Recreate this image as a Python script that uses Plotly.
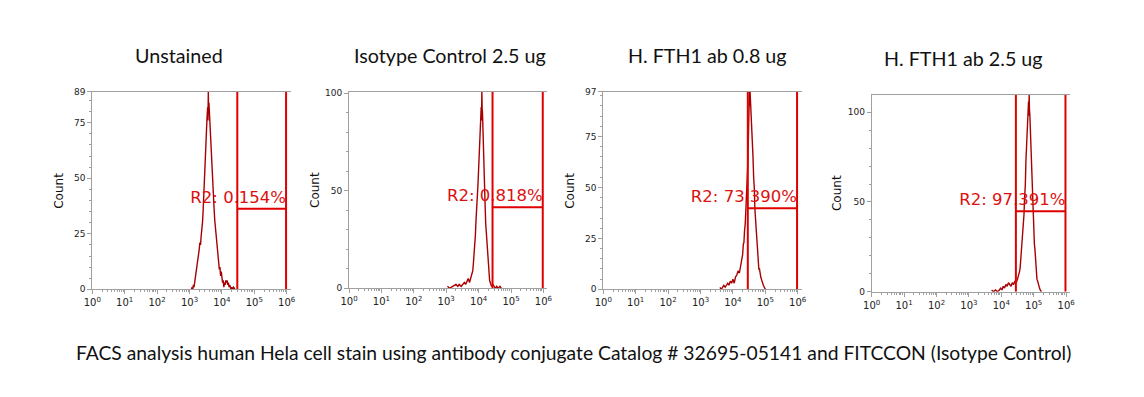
import plotly.graph_objects as go

# ---------------- data ----------------
titles = ["Unstained", "Isotype Control 2.5 ug", "H. FTH1 ab 0.8 ug", "H. FTH1 ab 2.5 ug"]
caption = "FACS analysis human Hela cell stain using antibody conjugate Catalog # 32695-05141 and FITCCON (Isotype Control)"
gate_labels = ["R2: 0.154%", "R2: 0.818%", "R2: 73.390%", "R2: 97.391%"]

# fluorescence (log10 of channel value) and event counts
p1_log = [3.06, 3.08, 3.10, 3.12, 3.14, 3.16, 3.18, 3.20, 3.22, 3.24, 3.26, 3.28, 3.30, 3.32, 3.34,
          3.36, 3.38, 3.40, 3.42, 3.44, 3.46, 3.48, 3.50, 3.52, 3.54, 3.56, 3.57, 3.58, 3.59, 3.60,
          3.62, 3.64, 3.66, 3.68, 3.70, 3.72, 3.74, 3.76, 3.78, 3.80, 3.82, 3.84, 3.86, 3.88, 3.90,
          3.92, 3.94, 3.96, 3.98, 4.00, 4.02, 4.04, 4.06, 4.08, 4.10, 4.12, 4.14, 4.16, 4.18, 4.20,
          4.22, 4.24, 4.26, 4.28, 4.30, 4.32, 4.36, 4.40]
p1_cnt = [0, 1, 0, 2, 1, 3, 4, 6, 9, 10, 13, 16, 18, 21, 20,
          24, 26, 30, 35, 41, 46, 52, 60, 70, 77, 82, 76, 89, 80, 84,
          77, 74, 66, 58, 51, 46, 40, 36, 31, 28, 25, 20, 18, 13, 12,
          9, 10, 6, 8, 5, 3, 4, 1, 3, 2, 4, 3, 4, 2, 3,
          1, 2, 1, 0, 1, 0, 1, 0]

p2_log = [3.04, 3.10, 3.20, 3.30, 3.36, 3.40, 3.46, 3.50, 3.56, 3.60, 3.64, 3.68, 3.72, 3.76, 3.80,
          3.82, 3.84, 3.86, 3.88, 3.90, 3.92, 3.94, 3.96, 3.98, 4.00, 4.02, 4.04, 4.06, 4.08, 4.09,
          4.10, 4.11, 4.12, 4.14, 4.16, 4.18, 4.20, 4.22, 4.24, 4.26, 4.28, 4.30, 4.32, 4.34, 4.36,
          4.38, 4.40, 4.44, 4.48, 4.52, 4.56, 4.60, 4.66, 4.70]
p2_cnt = [1, 0, 1, 2, 1, 2, 1, 2, 3, 2, 4, 5, 3, 6, 8,
          9, 13, 17, 23, 27, 35, 39, 47, 53, 61, 66, 78, 82, 93, 86,
          101, 92, 90, 74, 66, 51, 43, 33, 28, 20, 16, 10, 9, 4, 3,
          2, 1, 2, 1, 0, 1, 0, 1, 0]

p3_log = [3.60, 3.64, 3.68, 3.72, 3.76, 3.80, 3.84, 3.88, 3.92, 3.96, 4.00, 4.04, 4.08, 4.12, 4.16,
          4.20, 4.24, 4.26, 4.28, 4.30, 4.32, 4.34, 4.36, 4.38, 4.40, 4.42, 4.44, 4.46, 4.48, 4.50,
          4.51, 4.52, 4.53, 4.54, 4.56, 4.58, 4.60, 4.62, 4.64, 4.66, 4.68, 4.70, 4.72, 4.74, 4.76,
          4.78, 4.80, 4.82, 4.84, 4.86, 4.88, 4.90, 4.92, 4.94, 4.96, 4.98, 5.00]
p3_cnt = [1, 0, 1, 2, 1, 2, 3, 2, 4, 3, 5, 3, 6, 7, 9,
          8, 12, 13, 16, 17, 22, 23, 29, 32, 39, 44, 54, 62, 77, 86,
          97, 90, 97, 94, 87, 81, 73, 65, 55, 50, 39, 34, 26, 23, 17,
          15, 10, 10, 7, 6, 5, 3, 3, 2, 1, 1, 0]

p4_log = [3.70, 3.76, 3.82, 3.88, 3.94, 3.98, 4.02, 4.06, 4.10, 4.14, 4.18, 4.22, 4.26, 4.30, 4.34,
          4.38, 4.42, 4.46, 4.50, 4.52, 4.54, 4.56, 4.58, 4.60, 4.62, 4.64, 4.66, 4.68, 4.70, 4.72,
          4.74, 4.76, 4.78, 4.80, 4.82, 4.84, 4.85, 4.86, 4.87, 4.88, 4.90, 4.92, 4.94, 4.96, 4.98,
          5.00, 5.02, 5.04, 5.06, 5.08, 5.10, 5.12, 5.14, 5.16, 5.18, 5.20, 5.24]
p4_cnt = [1, 0, 1, 0, 1, 2, 1, 3, 2, 4, 3, 5, 4, 3, 5,
          4, 6, 5, 7, 8, 9, 11, 13, 18, 20, 26, 29, 39, 43, 53,
          59, 73, 80, 93, 96, 106, 98, 110, 101, 99, 87, 77, 63, 56, 44,
          37, 27, 23, 15, 12, 7, 6, 4, 3, 2, 1, 0]

hist_log = [p1_log, p2_log, p3_log, p4_log]
hist_cnt = [p1_cnt, p2_cnt, p3_cnt, p4_cnt]

# gate R2: left edge, right edge (log10), marker height (count)
gate_left = [4.475, 4.43, 4.46, 4.45]
gate_right = [5.98, 5.98, 5.98, 5.98]
gate_height = [36.3, 41.5, 39.8, 44.8]

y_max = [89, 100.8, 97, 109.6]
y_ticks = [[0, 25, 50, 75, 89], [0, 50, 100], [0, 25, 50, 75, 97], [0, 50, 100]]
y_minor_step = [5, 10, 5, 10]

x_tick_exp = [0, 1, 2, 3, 4, 5, 6]

# ---------------- layout geometry (pixels) ----------------
W, H = 1144, 397
panels_px = [  # left, right, top, bottom
    (92.3, 290.6, 91.7, 289.3),
    (349.0, 547.3, 91.7, 288.3),
    (603.3, 801.6, 91.7, 289.3),
    (871.7, 1070.0, 95.0, 291.7),
]
title_px = [(178.5, 55.5), (449.5, 55.5), (707.5, 55.5), (963.5, 58.0)]
LABEL_LIFT_PX = 2  # gap between gate marker line and its label

HIST = "#a80000"
GATE = "#e00000"
AXC = "#a0a0a0"

fig = go.Figure()

major_vals = [10 ** e for e in x_tick_exp]
major_text = ["10<sup>%d</sup>" % e for e in x_tick_exp]
minor_vals = [m * 10 ** e for e in x_tick_exp[:-1] for m in range(2, 10)]

for i in range(4):
    sfx = "" if i == 0 else str(i + 1)
    xa, ya = "x" + sfx, "y" + sfx
    l, r, t, b = panels_px[i]
    px_per_count = (b - t) / y_max[i]

    fig.add_trace(go.Scatter(
        x=[10 ** v for v in hist_log[i]], y=hist_cnt[i], mode="lines",
        line=dict(color=HIST, width=1.4), xaxis=xa, yaxis=ya,
        hoverinfo="skip", showlegend=False))

    fig.add_trace(go.Scatter(
        x=[10 ** gate_right[i]], y=[gate_height[i] + LABEL_LIFT_PX / px_per_count], mode="text",
        text=[gate_labels[i]], textposition="top left",
        textfont=dict(family="DejaVu Sans", size=16.5, color="#dd1010"),
        xaxis=xa, yaxis=ya, cliponaxis=False, hoverinfo="skip", showlegend=False))

    gl, gr, gh = 10 ** gate_left[i], 10 ** gate_right[i], gate_height[i]
    fig.add_trace(go.Scatter(
        x=[gl, gl, None, gl, gr, None, gr, gr],
        y=[0, y_max[i], None, gh, gh, None, 0, y_max[i]],
        mode="lines", line=dict(color=GATE, width=2),
        xaxis=xa, yaxis=ya, hoverinfo="skip", showlegend=False))

    minor_y = list(range(0, int(y_max[i]) + 1, y_minor_step[i]))
    fig.update_layout(**{
        "xaxis" + sfx: dict(
            type="log", range=[0, 6.12], automargin=False,
            domain=[l / W, r / W], anchor=ya,
            tickmode="array", tickvals=major_vals, ticktext=major_text,
            ticks="outside", ticklen=4, tickcolor=AXC,
            minor=dict(tickvals=minor_vals, ticks="outside", ticklen=2, tickcolor=AXC),
            showline=True, linecolor=AXC, linewidth=1, mirror=True,
            showgrid=False, zeroline=False,
            tickfont=dict(family="DejaVu Sans", size=10, color="#222222")),
        "yaxis" + sfx: dict(
            range=[0, y_max[i]], automargin=False,
            domain=[1 - b / H, 1 - t / H], anchor=xa,
            tickmode="array", tickvals=y_ticks[i],
            ticks="outside", ticklen=4, tickcolor=AXC,
            minor=dict(tickvals=minor_y, ticks="outside", ticklen=2, tickcolor=AXC),
            showline=True, linecolor=AXC, linewidth=1,
            showgrid=False, zeroline=False,
            tickfont=dict(family="DejaVu Sans", size=9, color="#222222")),
    })

    fig.add_annotation(x=(l - 34) / W, y=1 - ((t + b) / 2) / H, xref="paper", yref="paper",
                       text="Count", textangle=-90, showarrow=False,
                       xanchor="center", yanchor="middle",
                       font=dict(family="DejaVu Sans", size=12, color="#111111"))

    tx, ty = title_px[i]
    fig.add_annotation(x=tx / W, y=1 - ty / H, xref="paper", yref="paper",
                       text=titles[i], showarrow=False, xanchor="center", yanchor="middle",
                       font=dict(family="Lato", size=19.7, color="#111111"))

fig.add_annotation(x=573.5 / W, y=1 - 352 / H, xref="paper", yref="paper",
                   text=caption, showarrow=False, xanchor="center", yanchor="middle",
                   font=dict(family="Lato", size=19.3, color="#111111"))

fig.update_layout(width=W, height=H, margin=dict(l=0, r=0, t=0, b=0, autoexpand=False),
                  paper_bgcolor="white", plot_bgcolor="white", showlegend=False)

fig.write_html("out.html", config={"displayModeBar": False},
               post_script="document.body.style.margin='0px';")
